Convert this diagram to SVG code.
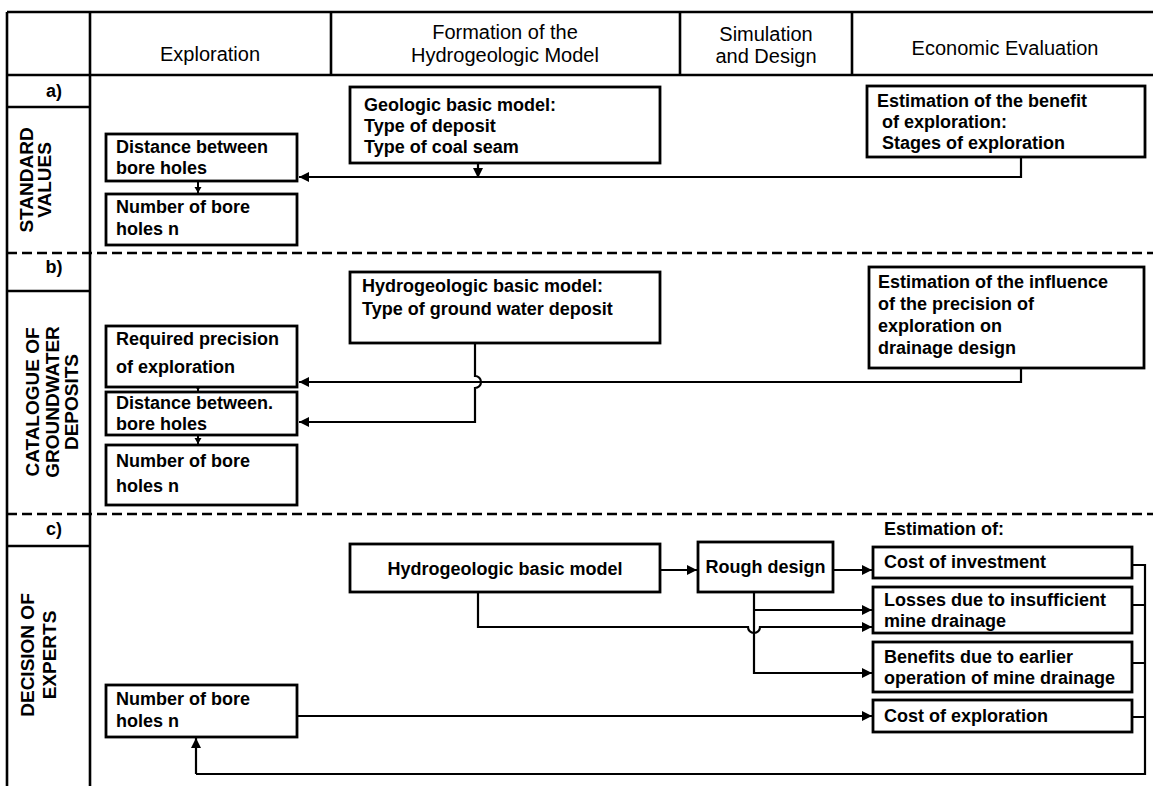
<svg xmlns="http://www.w3.org/2000/svg" width="1153" height="786" viewBox="0 0 1153 786">
<defs>
<marker id="ah" markerWidth="11" markerHeight="11" refX="10" refY="5" orient="auto" markerUnits="userSpaceOnUse"><path d="M0,0 L10,5 L0,10 z" fill="#000"/></marker>
<marker id="ahs" markerWidth="8" markerHeight="8" refX="6" refY="3.5" orient="auto" markerUnits="userSpaceOnUse"><path d="M0,0 L6,3.5 L0,7 z" fill="#000"/></marker>
</defs>
<style>
.frame{fill:none;stroke:#000;stroke-width:2.6}
.dash{fill:none;stroke:#000;stroke-width:2.4;stroke-dasharray:10 5}
.box{fill:#fff;stroke:#000;stroke-width:2.8}
.conn{fill:none;stroke:#000;stroke-width:2.2;marker-end:url(#ah)}
.sconn{fill:none;stroke:#000;stroke-width:2;marker-end:url(#ahs)}
.line{fill:none;stroke:#000;stroke-width:2.2}
.hd{font-family:"Liberation Sans",Arial,sans-serif;font-size:20px;text-anchor:middle;fill:#000}
.t{font-family:"Liberation Sans",Arial,sans-serif;font-size:18px;font-weight:bold;fill:#000}
.tc{font-family:"Liberation Sans",Arial,sans-serif;font-size:18px;font-weight:bold;fill:#000;text-anchor:middle}
.lbl{font-family:"Liberation Sans",Arial,sans-serif;font-size:19px;font-weight:bold;fill:#000;text-anchor:middle}
</style>
<rect width="1153" height="786" fill="#fff"/>

<g id="grid">
<path class="frame" d="M7,12 H1153 M7,75 H1153 M7,12 V786 M90,12 V786 M331,12 V75 M680,12 V75 M852,12 V75 M7,107 H90 M7,291 H90 M7,546 H90"/>
<path class="dash" d="M7,253 H1153 M7,514 H1153"/>
</g>

<g id="headers">
<text class="hd" x="210" y="61">Exploration</text>
<text class="hd" x="505" y="39">Formation of the</text>
<text class="hd" x="505" y="62">Hydrogeologic Model</text>
<text class="hd" x="766" y="41">Simulation</text>
<text class="hd" x="766" y="63">and Design</text>
<text class="hd" x="1005" y="55">Economic Evaluation</text>
</g>

<g id="row-labels">
<text class="tc" x="54" y="97">a)</text>
<text class="tc" x="54" y="273">b)</text>
<text class="tc" x="54" y="535">c)</text>
<text class="lbl" transform="translate(33,180) rotate(-90)">STANDARD</text>
<text class="lbl" transform="translate(51,180) rotate(-90)">VALUES</text>
<text class="lbl" transform="translate(39,402) rotate(-90)">CATALOGUE OF</text>
<text class="lbl" transform="translate(59,402) rotate(-90)">GROUNDWATER</text>
<text class="lbl" transform="translate(78,402) rotate(-90)">DEPOSITS</text>
<text class="lbl" transform="translate(34,655) rotate(-90)">DECISION OF</text>
<text class="lbl" transform="translate(56,655) rotate(-90)">EXPERTS</text>
</g>

<g id="connectors">
<path class="conn" d="M1021,157 V177 H299"/>
<path class="conn" d="M478,163 V178"/>
<path class="sconn" d="M198,181 V193"/>
<path class="conn" d="M1021,368 V382 H299"/>
<path class="conn" d="M475,343 V376 A6,6 0 0 1 475,388 V422 H299"/>
<path class="sconn" d="M198,387 V391"/>
<path class="sconn" d="M198,435 V444"/>
<path class="conn" d="M660,570 H697"/>
<path class="conn" d="M833,570 H872"/>
<path class="conn" d="M754,592 V673 H872"/>
<path class="conn" d="M754,610 H872"/>
<path class="conn" d="M478,592 V627 H748 A6,6 0 0 0 760,627 H872"/>
<path class="conn" d="M297,716 H872"/>
<path class="line" d="M1132,565 H1145 V774 H196 M1132,605 H1145 M1132,663 H1145 M1132,717 H1145"/>
<path class="conn" d="M196,774 V738"/>
</g>

<g id="a-geologic">
<rect class="box" x="350" y="87" width="310" height="76"/>
<text class="t" x="364" y="111">Geologic basic model:</text>
<text class="t" x="364" y="132">Type of deposit</text>
<text class="t" x="364" y="153">Type of coal seam</text>
</g>
<g id="a-benefit">
<rect class="box" x="867" y="86" width="278" height="71"/>
<text class="t" x="877" y="107">Estimation of the benefit</text>
<text class="t" x="882" y="128">of exploration:</text>
<text class="t" x="882" y="149">Stages of exploration</text>
</g>
<g id="a-distance">
<rect class="box" x="106" y="134" width="191" height="47"/>
<text class="t" x="116" y="153">Distance between</text>
<text class="t" x="116" y="174">bore holes</text>
</g>
<g id="a-number">
<rect class="box" x="106" y="194" width="191" height="51"/>
<text class="t" x="116" y="213">Number of bore</text>
<text class="t" x="116" y="235">holes n</text>
</g>

<g id="b-hydro">
<rect class="box" x="350" y="272" width="310" height="71"/>
<text class="t" x="362" y="292">Hydrogeologic basic model:</text>
<text class="t" x="362" y="315">Type of ground water deposit</text>
</g>
<g id="b-influence">
<rect class="box" x="869" y="267" width="275" height="101"/>
<text class="t" x="878" y="288">Estimation of the influence</text>
<text class="t" x="878" y="310">of the precision of</text>
<text class="t" x="878" y="332">exploration on</text>
<text class="t" x="878" y="354">drainage design</text>
</g>
<g id="b-required">
<rect class="box" x="106" y="326" width="191" height="61"/>
<text class="t" x="116" y="345">Required precision</text>
<text class="t" x="116" y="373">of exploration</text>
</g>
<g id="b-distance">
<rect class="box" x="106" y="392" width="191" height="43"/>
<text class="t" x="116" y="409">Distance between.</text>
<text class="t" x="116" y="430">bore holes</text>
</g>
<g id="b-number">
<rect class="box" x="106" y="445" width="191" height="60"/>
<text class="t" x="116" y="467">Number of bore</text>
<text class="t" x="116" y="492">holes n</text>
</g>

<g id="c-hydro">
<rect class="box" x="350" y="544" width="310" height="48"/>
<text class="tc" x="505" y="575">Hydrogeologic basic model</text>
</g>
<g id="c-rough">
<rect class="box" x="698" y="542" width="135" height="50"/>
<text class="tc" x="765.5" y="573">Rough design</text>
</g>
<g id="c-estimation">
<text class="t" x="884" y="535">Estimation of:</text>
</g>
<g id="c-cost-investment">
<rect class="box" x="873" y="547" width="259" height="31"/>
<text class="t" x="884" y="568">Cost of investment</text>
</g>
<g id="c-losses">
<rect class="box" x="873" y="587" width="259" height="46"/>
<text class="t" x="884" y="606">Losses due to insufficient</text>
<text class="t" x="884" y="627">mine drainage</text>
</g>
<g id="c-benefits">
<rect class="box" x="873" y="642" width="259" height="50"/>
<text class="t" x="884" y="663">Benefits due to earlier</text>
<text class="t" x="884" y="684">operation of mine drainage</text>
</g>
<g id="c-cost-exploration">
<rect class="box" x="873" y="700" width="259" height="32"/>
<text class="t" x="884" y="722">Cost of exploration</text>
</g>
<g id="c-number">
<rect class="box" x="106" y="685" width="191" height="52"/>
<text class="t" x="116" y="705">Number of bore</text>
<text class="t" x="116" y="727">holes n</text>
</g>
</svg>
